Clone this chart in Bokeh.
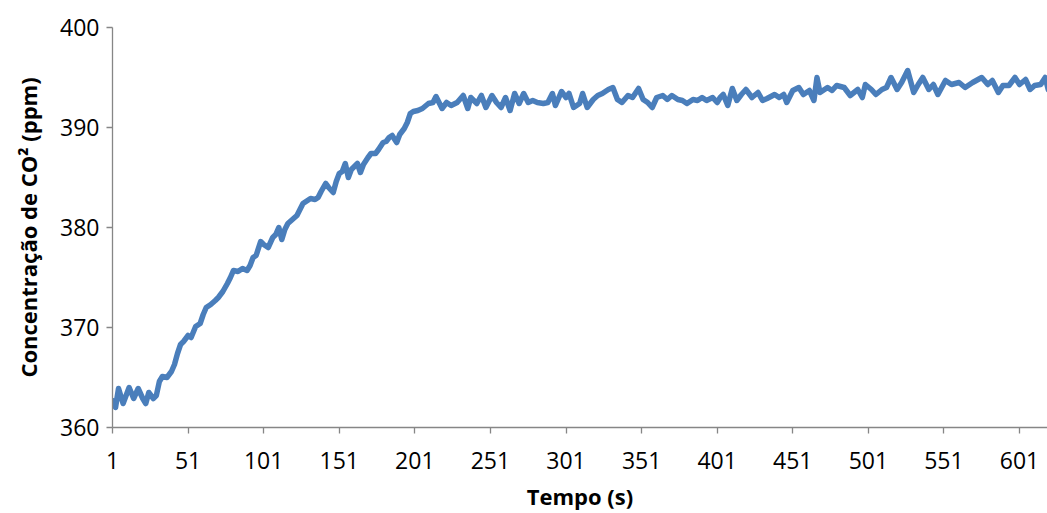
from bokeh.plotting import figure
from bokeh.models import FixedTicker, Range1d
from bokeh.embed import file_html
from bokeh.resources import INLINE

TIME = [1, 3, 5, 8, 12, 15, 18, 21, 23, 25, 28, 30, 32, 34, 37, 40, 42, 44, 46, 48,
        51, 53, 56, 59, 61, 63, 66, 69, 71, 74, 77, 79, 81, 84, 87, 90, 92, 94, 96, 99,
        101, 104, 107, 109, 111, 113, 115, 117, 120, 123, 125, 127, 130, 132, 135, 137, 139, 142, 144, 147,
        149, 151, 153, 155, 157, 159, 161, 163, 165, 167, 170, 172, 175, 177, 180, 182, 184, 186, 189, 191,
        194, 196, 198, 200, 203, 206, 210, 213, 215, 219, 222, 225, 229, 233, 236, 238, 242, 245, 248, 252,
        255, 258, 261, 264, 267, 270, 273, 276, 279, 282, 286, 289, 292, 294, 298, 301, 303, 306, 310, 312,
        315, 319, 322, 325, 329, 332, 335, 338, 342, 345, 349, 352, 355, 358, 361, 365, 368, 371, 375, 378,
        381, 385, 388, 391, 394, 398, 401, 403, 405, 408, 411, 414, 417, 420, 424, 428, 431, 434, 439, 442,
        445, 447, 451, 455, 458, 462, 465, 467, 469, 474, 477, 480, 485, 489, 494, 497, 499, 503, 506, 510,
        513, 516, 520, 523, 527, 531, 534, 537, 541, 544, 547, 552, 556, 561, 565, 570, 576, 580, 583, 587,
        590, 594, 598, 601, 605, 608, 611, 615, 618, 620]

CO2 = [362.7, 362.0, 363.9, 362.4, 364.0, 362.9, 363.9, 362.9, 362.4, 363.5, 362.9, 363.2, 364.6, 365.1, 365.0, 365.6, 366.3, 367.4, 368.3, 368.6,
       369.2, 369.0, 370.1, 370.4, 371.3, 372.0, 372.3, 372.7, 373.0, 373.6, 374.4, 375.0, 375.7, 375.6, 375.9, 375.7, 376.2, 377.0, 377.2, 378.6,
       378.3, 378.0, 379.0, 379.3, 380.0, 378.8, 379.8, 380.4, 380.8, 381.2, 381.8, 382.4, 382.7, 382.9, 382.8, 383.0, 383.6, 384.4, 384.0, 383.5,
       384.6, 385.4, 385.6, 386.4, 385.0, 385.8, 386.1, 386.4, 385.5, 386.3, 387.0, 387.4, 387.4, 387.8, 388.5, 388.6, 389.0, 389.2, 388.5, 389.3,
       389.9, 390.5, 391.4, 391.6, 391.7, 391.9, 392.4, 392.5, 393.1, 391.9, 392.5, 392.2, 392.5, 393.2, 391.9, 393.0, 392.4, 393.2, 392.0, 393.2,
       392.5, 392.0, 393.0, 391.7, 393.4, 392.4, 393.4, 392.5, 392.7, 392.5, 392.4, 392.5, 393.4, 392.2, 393.6, 393.0, 393.4, 392.0, 392.4, 393.4,
       392.0, 392.8, 393.2, 393.4, 393.8, 394.0, 392.8, 392.5, 393.2, 393.0, 393.9, 392.8, 392.5, 392.0, 393.0, 393.2, 392.8, 393.2, 392.8, 392.7,
       392.4, 392.8, 392.7, 393.0, 392.7, 393.0, 392.5, 393.0, 393.3, 392.2, 393.9, 392.7, 393.3, 393.8, 393.0, 393.5, 392.7, 392.9, 393.3, 393.0,
       393.3, 392.5, 393.7, 394.0, 393.3, 393.7, 392.7, 395.0, 393.5, 394.0, 393.7, 394.2, 394.0, 393.2, 393.8, 393.0, 394.3, 393.8, 393.3, 393.8,
       394.0, 395.0, 393.8, 394.5, 395.7, 393.5, 394.3, 395.0, 393.8, 394.3, 393.3, 394.7, 394.3, 394.5, 394.0, 394.5, 395.0, 394.3, 394.7, 393.5,
       394.2, 394.2, 395.0, 394.3, 394.8, 393.8, 394.2, 394.3, 395.0, 393.8]

X_TICKS = [1, 51, 101, 151, 201, 251, 301, 351, 401, 451, 501, 551, 601]
Y_TICKS = [360, 370, 380, 390, 400]

FONT = "Open Sans"
AXIS_COLOR = "#868686"

p = figure(width=1047, height=513, output_backend="svg", toolbar_location=None,
           x_range=Range1d(1, 619.5), y_range=Range1d(360, 400),
           min_border_left=112, min_border_right=0, min_border_top=27, min_border_bottom=86)

p.line(TIME, CO2, line_color="#4A7EBB", line_width=5.5, line_join="round", line_cap="round")

p.grid.visible = False
p.outline_line_color = None
p.background_fill_color = "white"
p.border_fill_color = "white"

for ax in (p.xaxis[0], p.yaxis[0]):
    ax.axis_line_color = AXIS_COLOR
    ax.axis_line_width = 1.3
    ax.major_tick_line_color = AXIS_COLOR
    ax.major_tick_line_width = 1.3
    ax.major_tick_in = 0
    ax.major_tick_out = 6
    ax.minor_tick_line_color = None
    ax.major_label_text_font = FONT
    ax.major_label_text_font_size = "23px"
    ax.major_label_text_color = "#000000"
    ax.axis_label_text_font = FONT
    ax.axis_label_text_font_style = "bold"
    ax.axis_label_text_font_size = "22px"
    ax.axis_label_text_color = "#000000"

p.xaxis.ticker = FixedTicker(ticks=X_TICKS)
p.yaxis.ticker = FixedTicker(ticks=Y_TICKS)
p.xaxis.axis_label = "Tempo (s)"
p.yaxis.axis_label = "Concentração de CO² (ppm)"
p.xaxis.major_label_standoff = 18
p.yaxis.major_label_standoff = 7
p.xaxis.axis_label_standoff = 9
p.yaxis.axis_label_standoff = 14

open("out.html", "w").write(file_html(p, INLINE))
